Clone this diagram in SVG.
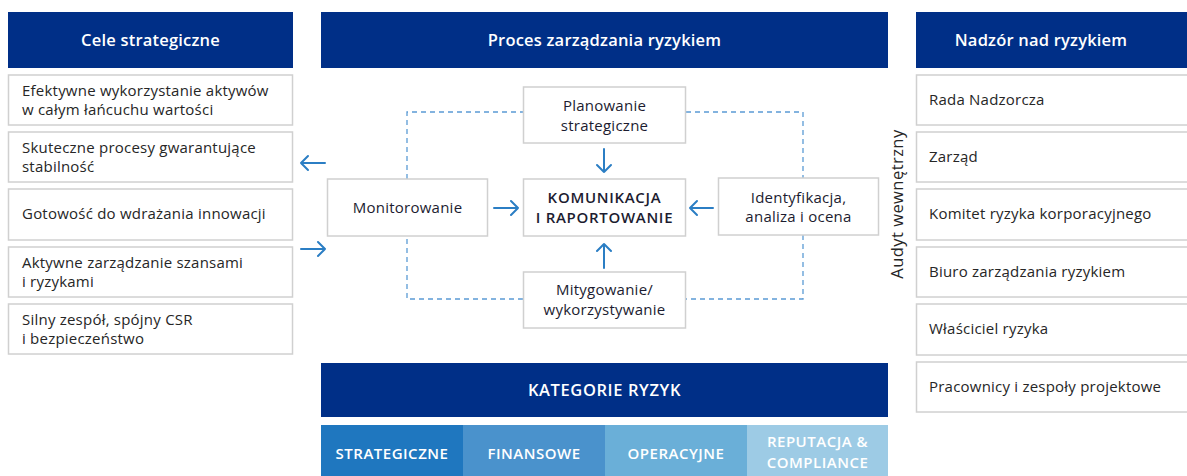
<svg xmlns="http://www.w3.org/2000/svg" width="1187" height="476" viewBox="0 0 1187 476">
<style>
.hdr{fill:#002f87}
.box{fill:#fff;stroke:#d0d0d0;stroke-width:1.5}
.ht{font-family:"Open Sans","Noto Sans",sans-serif;font-size:16.5px;font-weight:600;letter-spacing:0.2px;fill:#fff;text-anchor:middle}
.lt{font-family:"Open Sans","Noto Sans",sans-serif;font-size:15px;letter-spacing:0.22px;fill:#262626}
.at{font-family:"Open Sans","Noto Sans",sans-serif;font-size:16.5px;letter-spacing:0.45px;fill:#262626;text-anchor:middle}
.mt{font-family:"Open Sans","Noto Sans",sans-serif;font-size:15px;letter-spacing:0.25px;fill:#1c1c30;text-anchor:middle}
.mb{font-weight:600;letter-spacing:0.7px}
.ct{font-family:"Open Sans","Noto Sans",sans-serif;font-size:15px;font-weight:600;letter-spacing:0.5px;fill:#fff;text-anchor:middle}
.kt{font-family:"Open Sans","Noto Sans",sans-serif;font-size:16.5px;font-weight:600;letter-spacing:0.6px;fill:#fff;text-anchor:middle}
.dash{fill:none;stroke:#5b9bd5;stroke-width:1.3;stroke-dasharray:5 4}
.arr{fill:none;stroke:#2b7ec4;stroke-width:2;stroke-linecap:round;stroke-linejoin:round}
</style>
<rect width="1187" height="476" fill="#fff"/>

<g id="col-left">
<rect class="hdr" x="8" y="12" width="285" height="56"/>
<text class="ht" x="150.5" y="46">Cele strategiczne</text>
</g>
<g id="cel-1"><rect class="box" x="8.5" y="75" width="284" height="50"/><text class="lt" x="22" y="96">Efektywne wykorzystanie aktywów</text><text class="lt" x="22" y="115">w całym łańcuchu wartości</text></g>
<g id="cel-2"><rect class="box" x="8.5" y="132" width="284" height="50"/><text class="lt" x="22" y="153">Skuteczne procesy gwarantujące</text><text class="lt" x="22" y="172">stabilność</text></g>
<g id="cel-3"><rect class="box" x="8.5" y="189" width="284" height="51"/><text class="lt" x="22" y="219">Gotowość do wdrażania innowacji</text></g>
<g id="cel-4"><rect class="box" x="8.5" y="247" width="284" height="50"/><text class="lt" x="22" y="268">Aktywne zarządzanie szansami</text><text class="lt" x="22" y="287">i ryzykami</text></g>
<g id="cel-5"><rect class="box" x="8.5" y="304" width="284" height="50"/><text class="lt" x="22" y="325">Silny zespół, spójny CSR</text><text class="lt" x="22" y="344">i bezpieczeństwo</text></g>

<g id="col-mid">
<rect class="hdr" x="321" y="12" width="567" height="56"/>
<text class="ht" x="604.5" y="46">Proces zarządzania ryzykiem</text>
</g>

<g id="connectors">
<path class="dash" d="M407 179 V112 H523"/>
<path class="dash" d="M686 112 H803 V178"/>
<path class="dash" d="M803 235 V299 H686"/>
<path class="dash" d="M523 299 H407 V236"/>
<path class="arr" d="M604 149 V172 M597 165 L604 172 L611 165"/>
<path class="arr" d="M604 268 V244 M597 251 L604 244 L611 251"/>
<path class="arr" d="M494 208 H518 M511 201 L518 208 L511 215"/>
<path class="arr" d="M713 208 H690 M697 201 L690 208 L697 215"/>
<path class="arr" d="M325 163 H301 M308 156 L301 163 L308 170"/>
<path class="arr" d="M301 249 H325 M318 242 L325 249 L318 256"/>
</g>

<g id="planowanie"><rect class="box" x="523.5" y="87" width="162" height="56"/><text class="mt" x="604.5" y="111">Planowanie</text><text class="mt" x="604.5" y="131">strategiczne</text></g>
<g id="komunikacja"><rect class="box" x="523.5" y="179" width="162" height="57"/><text class="mt mb" x="604.5" y="203">KOMUNIKACJA</text><text class="mt mb" x="604.5" y="223">I RAPORTOWANIE</text></g>
<g id="mitygowanie"><rect class="box" x="523.5" y="272" width="162" height="56"/><text class="mt" x="604.5" y="295">Mitygowanie/</text><text class="mt" x="604.5" y="315">wykorzystywanie</text></g>
<g id="monitorowanie"><rect class="box" x="327.5" y="179" width="160" height="57"/><text class="mt" x="407.5" y="213">Monitorowanie</text></g>
<g id="identyfikacja"><rect class="box" x="718.5" y="178" width="160" height="57"/><text class="mt" x="798.5" y="203">Identyfikacja,</text><text class="mt" x="798.5" y="222">analiza i ocena</text></g>

<g id="kategorie">
<rect class="hdr" x="321" y="363" width="567" height="54"/>
<text class="kt" x="604.5" y="396">KATEGORIE RYZYK</text>
</g>
<g id="kat-1"><rect x="321" y="425" width="142" height="51" fill="#1f77bf"/><text class="ct" x="392" y="459">STRATEGICZNE</text></g>
<g id="kat-2"><rect x="463" y="425" width="142" height="51" fill="#4a92cc"/><text class="ct" x="534" y="459">FINANSOWE</text></g>
<g id="kat-3"><rect x="605" y="425" width="142" height="51" fill="#6aafd8"/><text class="ct" x="676" y="459">OPERACYJNE</text></g>
<g id="kat-4"><rect x="747" y="425" width="141" height="51" fill="#9dcbe5"/><text class="ct" x="817.5" y="447">REPUTACJA &amp;</text><text class="ct" x="817.5" y="468">COMPLIANCE</text></g>

<g id="col-right">
<rect class="hdr" x="916" y="12" width="275" height="56"/>
<text class="ht" x="1041" y="46">Nadzór nad ryzykiem</text>
</g>
<g id="audyt"><text class="at" transform="translate(903 204) rotate(-90)">Audyt wewnętrzny</text></g>
<g id="nad-1"><rect class="box" x="916.5" y="75" width="274" height="50"/><text class="lt" x="929" y="105">Rada Nadzorcza</text></g>
<g id="nad-2"><rect class="box" x="916.5" y="132" width="274" height="50"/><text class="lt" x="929" y="162">Zarząd</text></g>
<g id="nad-3"><rect class="box" x="916.5" y="189" width="274" height="51"/><text class="lt" x="929" y="219">Komitet ryzyka korporacyjnego</text></g>
<g id="nad-4"><rect class="box" x="916.5" y="247" width="274" height="50"/><text class="lt" x="929" y="277">Biuro zarządzania ryzykiem</text></g>
<g id="nad-5"><rect class="box" x="916.5" y="304" width="274" height="51"/><text class="lt" x="929" y="334">Właściciel ryzyka</text></g>
<g id="nad-6"><rect class="box" x="916.5" y="362" width="274" height="50"/><text class="lt" x="929" y="392">Pracownicy i zespoły projektowe</text></g>
</svg>
